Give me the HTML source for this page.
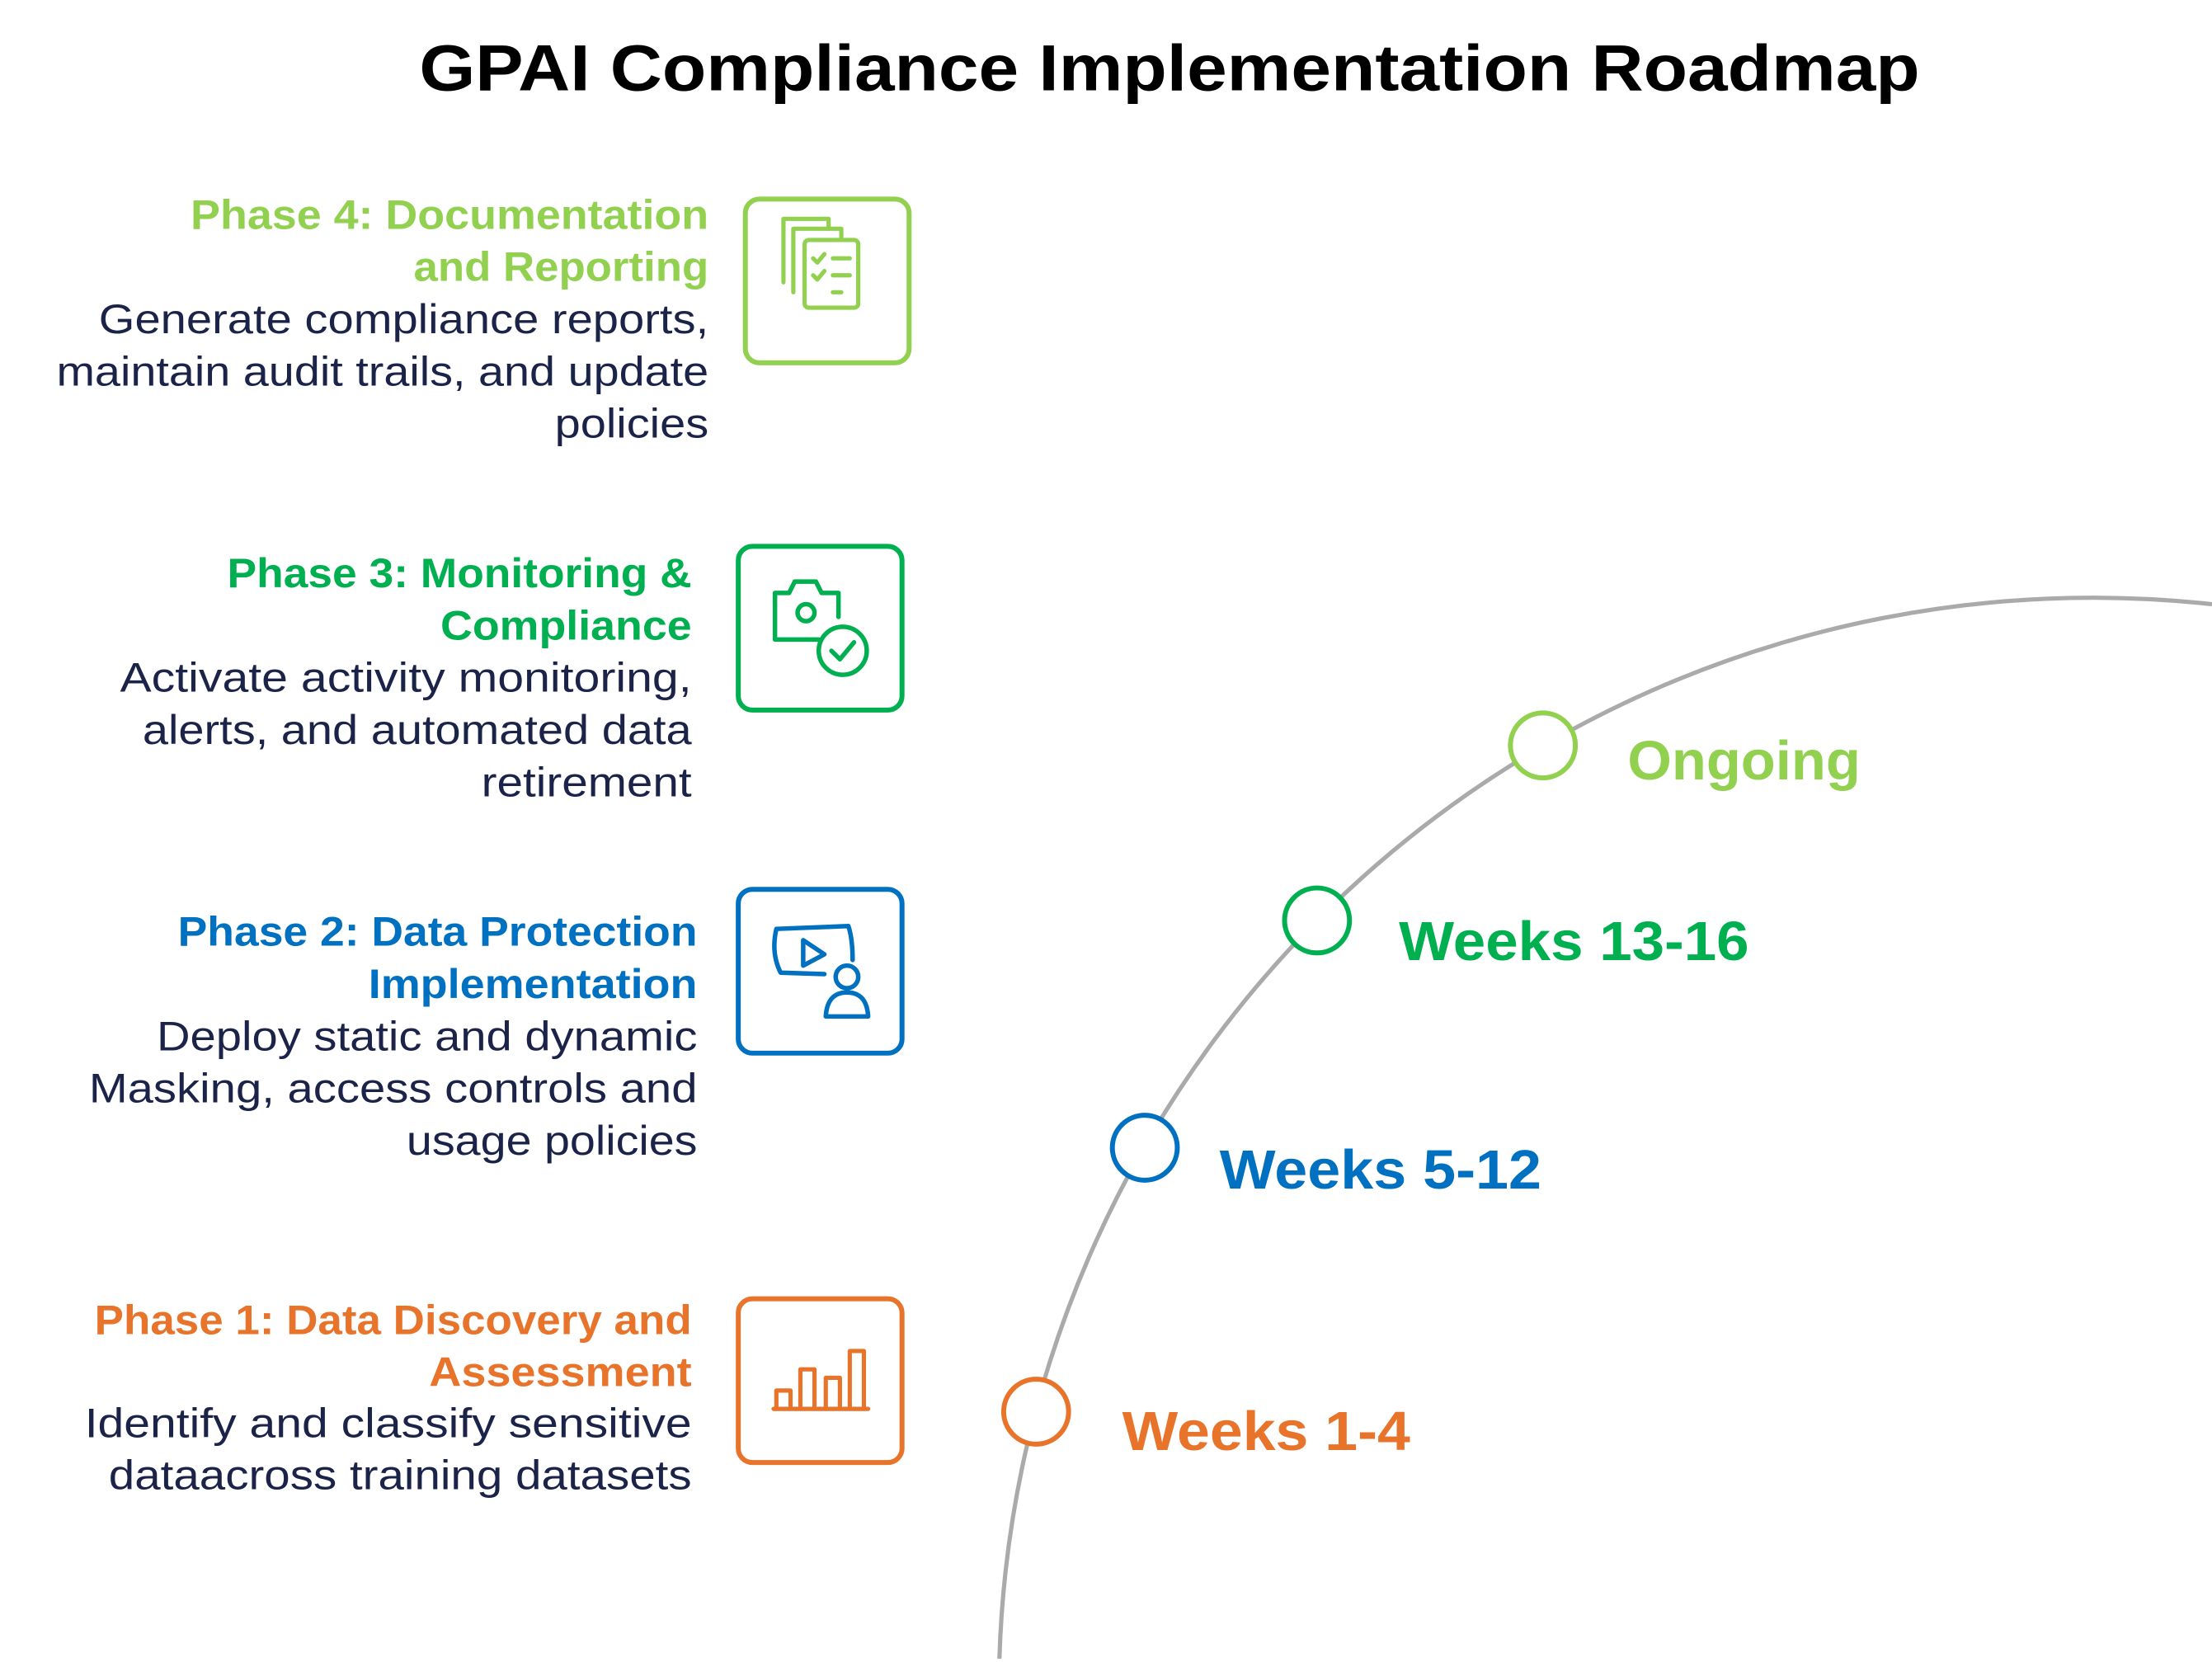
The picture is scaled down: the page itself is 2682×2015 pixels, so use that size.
<!DOCTYPE html>
<html><head><meta charset="utf-8"><style>
html,body{margin:0;padding:0;background:#fff;}
svg{display:block;}
text{font-family:"Liberation Sans",sans-serif;}
</style></head><body>
<svg width="2682" height="2015" viewBox="0 0 1567 1177.3" xmlns="http://www.w3.org/2000/svg">
<rect width="1567" height="1177.3" fill="#fff"/>
<text x="297" y="64" font-size="46" font-weight="bold" fill="#000" textLength="1063" lengthAdjust="spacingAndGlyphs">GPAI Compliance Implementation Roadmap</text>

<path d="M708,1175 A775,775 0 0 1 1567,428" fill="none" stroke="#aaaaaa" stroke-width="3"/>

<g stroke-width="3.5" fill="#fff">
<circle cx="734" cy="1000" r="23" stroke="#e8742c"/>
<circle cx="811" cy="813" r="23" stroke="#0070c0"/>
<circle cx="933" cy="652" r="23" stroke="#00b050"/>
<circle cx="1093" cy="528" r="23" stroke="#92d050"/>
</g>
<g font-size="39" font-weight="bold" lengthAdjust="spacingAndGlyphs">
<text x="795" y="1027" fill="#e8742c" textLength="204" lengthAdjust="spacingAndGlyphs">Weeks 1-4</text>
<text x="864" y="842" fill="#0070c0" textLength="228" lengthAdjust="spacingAndGlyphs">Weeks 5-12</text>
<text x="991" y="680" fill="#00b050" textLength="248" lengthAdjust="spacingAndGlyphs">Weeks 13-16</text>
<text x="1153" y="552" fill="#92d050" textLength="165" lengthAdjust="spacingAndGlyphs">Ongoing</text>
</g>

<g font-size="29">
<text x="135" y="162" font-weight="bold" fill="#92d050" textLength="367" lengthAdjust="spacingAndGlyphs">Phase 4: Documentation</text>
<text x="293" y="199" font-weight="bold" fill="#92d050" textLength="209" lengthAdjust="spacingAndGlyphs">and Reporting</text>
<text x="70" y="236" fill="#1b2348" textLength="432" lengthAdjust="spacingAndGlyphs">Generate compliance reports,</text>
<text x="40" y="273" fill="#1b2348" textLength="462" lengthAdjust="spacingAndGlyphs">maintain audit trails, and update</text>
<text x="393" y="310" fill="#1b2348" textLength="109" lengthAdjust="spacingAndGlyphs">policies</text>

<text x="161" y="416" font-weight="bold" fill="#00b050" textLength="329" lengthAdjust="spacingAndGlyphs">Phase 3: Monitoring &amp;</text>
<text x="312" y="453" font-weight="bold" fill="#00b050" textLength="178" lengthAdjust="spacingAndGlyphs">Compliance</text>
<text x="85" y="490" fill="#1b2348" textLength="405" lengthAdjust="spacingAndGlyphs">Activate activity monitoring,</text>
<text x="101" y="527" fill="#1b2348" textLength="389" lengthAdjust="spacingAndGlyphs">alerts, and automated data</text>
<text x="341" y="564" fill="#1b2348" textLength="149" lengthAdjust="spacingAndGlyphs">retirement</text>

<text x="126" y="670" font-weight="bold" fill="#0070c0" textLength="368" lengthAdjust="spacingAndGlyphs">Phase 2: Data Protection</text>
<text x="261" y="707" font-weight="bold" fill="#0070c0" textLength="233" lengthAdjust="spacingAndGlyphs">Implementation</text>
<text x="111" y="744" fill="#1b2348" textLength="383" lengthAdjust="spacingAndGlyphs">Deploy static and dynamic</text>
<text x="63" y="781" fill="#1b2348" textLength="431" lengthAdjust="spacingAndGlyphs">Masking, access controls and</text>
<text x="288" y="818" fill="#1b2348" textLength="206" lengthAdjust="spacingAndGlyphs">usage policies</text>

<text x="67" y="945" font-weight="bold" fill="#e8742c" textLength="423" lengthAdjust="spacingAndGlyphs">Phase 1: Data Discovery and</text>
<text x="304" y="982" font-weight="bold" fill="#e8742c" textLength="186" lengthAdjust="spacingAndGlyphs">Assessment</text>
<text x="60" y="1018" fill="#1b2348" textLength="430" lengthAdjust="spacingAndGlyphs">Identify and classify sensitive</text>
<text x="77" y="1055" fill="#1b2348" textLength="413" lengthAdjust="spacingAndGlyphs">dataacross training datasets</text>
</g>

<g fill="none" stroke-width="3.5">
<rect x="528" y="141" width="116" height="116" rx="10" stroke="#92d050"/>
<rect x="523" y="387" width="116" height="116" rx="10" stroke="#00b050"/>
<rect x="523" y="630" width="116" height="116" rx="10" stroke="#0070c0"/>
<rect x="523" y="920" width="116" height="116" rx="10" stroke="#e8742c"/>
</g>

<g fill="none" stroke="#92d050" stroke-width="3" stroke-linecap="round" stroke-linejoin="round">
<path d="M555,200 V155 H587 V162"/>
<path d="M562,207 V162 H596 V169"/>
<rect x="570" y="170" width="38" height="48" rx="3" fill="#fff"/>
<path d="M576,183 l3,3 l5,-6 M590,183 h12 M576,195 l3,3 l5,-6 M590,195 h12 M590,207 h6"/>
</g>

<g fill="none" stroke="#00b050" stroke-width="3.2" stroke-linecap="round" stroke-linejoin="round">
<path d="M580,453 H549 V420 H559 L563,412 H578 L582,420 H594 V437"/>
<circle cx="571" cy="434" r="6"/>
<circle cx="597" cy="461" r="17"/>
<path d="M589,461 l6,6 l10,-12"/>
</g>

<g fill="none" stroke="#0070c0" stroke-width="3.2" stroke-linecap="round" stroke-linejoin="round">
<path d="M584,690 L553,689 Q546,675 550,658 L601,656 Q604,665 604,680"/>
<path d="M569,666 L569,684 L584,676 Z"/>
<circle cx="600" cy="692" r="8"/>
<path d="M585,720 Q586,703 600,703 Q614,703 615,720 Z"/>
</g>

<g fill="none" stroke="#e8742c" stroke-width="3" stroke-linecap="round" stroke-linejoin="round">
<path d="M548,998 H615"/>
<path d="M550,998 V985 H560 V998 M567,998 V970 H577 V998 M585,998 V976 H595 V998 M602,998 V957 H612 V998"/>
</g>
</svg>
</body></html>
